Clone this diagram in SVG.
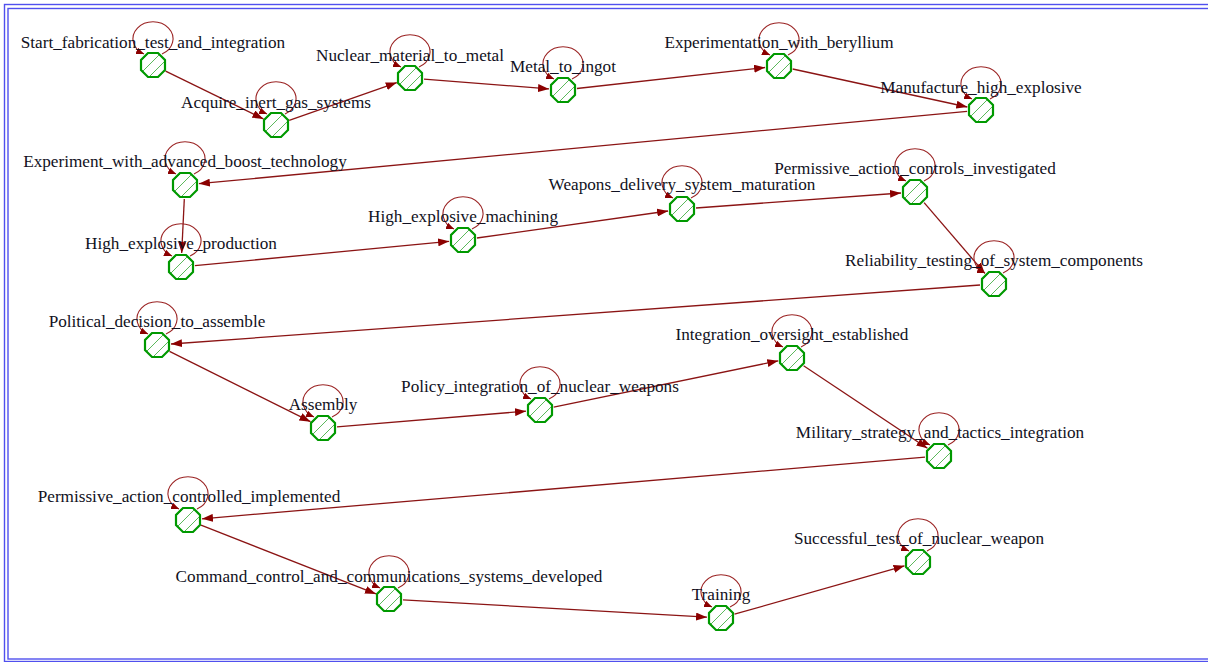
<svg xmlns="http://www.w3.org/2000/svg" xmlns:xlink="http://www.w3.org/1999/xlink" width="1208" height="662" viewBox="0 0 1208 662">
<style>
.edge{fill:none;stroke:#8b1414;stroke-width:1.3;marker-end:url(#arr)}
.loop{fill:none;stroke:#9b2424;stroke-width:1.1;marker-end:url(#arrS)}
.lbl{font-family:"Liberation Serif","Times New Roman",serif;font-size:17.2px;fill:#111122;text-anchor:middle}
.frame{fill:none;stroke:#5050ee;stroke-width:1.4}
</style>
<defs>
<marker id="arr" markerUnits="userSpaceOnUse" markerWidth="12" markerHeight="8" refX="11" refY="4" orient="auto"><path d="M0,0 L11,4 L0,8 z" fill="#8b0000"/></marker>
<marker id="arrS" markerUnits="userSpaceOnUse" markerWidth="9" markerHeight="7" refX="8" refY="3.5" orient="auto"><path d="M0,0 L8,3.5 L0,7 z" fill="#8b0000"/></marker>
<clipPath id="octClip"><polygon points="12,5 5,12 -5,12 -12,5 -12,-5 -5,-12 5,-12 12,-5"/></clipPath>
<g id="oct">
<polygon points="12,5 5,12 -5,12 -12,5 -12,-5 -5,-12 5,-12 12,-5" fill="#ffffff"/>
<g clip-path="url(#octClip)" stroke="#5cb85c" stroke-width="1">
<line x1="-20" y1="4" x2="4" y2="-20"/>
<line x1="-14" y1="10" x2="10" y2="-14"/>
<line x1="-8" y1="16" x2="16" y2="-8"/>
<line x1="-2" y1="22" x2="22" y2="-2"/>
</g>
<polygon points="12,5 5,12 -5,12 -12,5 -12,-5 -5,-12 5,-12 12,-5" fill="none" stroke="#009900" stroke-width="2.2"/>
</g>
</defs>
<rect x="0" y="0" width="1208" height="662" fill="#ffffff"/>
<rect class="frame" x="4.5" y="4.5" width="1212" height="657"/>
<rect class="frame" x="8" y="8.5" width="1208" height="650.5"/>
<g id="connectors">
<path class="edge" d="M165.6,71.1 L263.4,118.9"/>
<path class="edge" d="M289.2,120.4 L396.8,82.6"/>
<path class="edge" d="M424,79.1 L549,88.9"/>
<path class="edge" d="M576.9,88.5 L765.1,67.5"/>
<path class="edge" d="M792.7,69 L967.3,107"/>
<path class="edge" d="M967.1,111.3 L198.9,183.7"/>
<path class="edge" d="M184.3,199 L181.7,253"/>
<path class="edge" d="M194.9,265.7 L449.1,241.3"/>
<path class="edge" d="M476.9,238 L668.1,211"/>
<path class="edge" d="M696,208 L901,193"/>
<path class="edge" d="M924.1,202.6 L984.9,273.4"/>
<path class="edge" d="M980,285 L171,344"/>
<path class="edge" d="M169.5,351.3 L310.5,421.7"/>
<path class="edge" d="M337,426.8 L526,411.2"/>
<path class="edge" d="M553.7,407.2 L778.3,360.8"/>
<path class="edge" d="M803.6,365.8 L927.4,448.2"/>
<path class="edge" d="M925,457.2 L202,518.8"/>
<path class="edge" d="M201,525.1 L376,593.9"/>
<path class="edge" d="M403,599.8 L707,617.2"/>
<path class="edge" d="M734.5,614.2 L904.5,565.8"/>
<path class="loop" d="M162,54 A20 17 0 1 0 144,54"/>
<path class="loop" d="M285,114 A20 17 0 1 0 267,114"/>
<path class="loop" d="M419,67 A20 17 0 1 0 401,67"/>
<path class="loop" d="M572,79 A20 17 0 1 0 554,79"/>
<path class="loop" d="M788,55 A20 17 0 1 0 770,55"/>
<path class="loop" d="M990,99 A20 17 0 1 0 972,99"/>
<path class="loop" d="M194,174 A20 17 0 1 0 176,174"/>
<path class="loop" d="M190,256 A20 17 0 1 0 172,256"/>
<path class="loop" d="M472,229 A20 17 0 1 0 454,229"/>
<path class="loop" d="M691,198 A20 17 0 1 0 673,198"/>
<path class="loop" d="M924,181 A20 17 0 1 0 906,181"/>
<path class="loop" d="M1003,273 A20 17 0 1 0 985,273"/>
<path class="loop" d="M166,334 A20 17 0 1 0 148,334"/>
<path class="loop" d="M332,417 A20 17 0 1 0 314,417"/>
<path class="loop" d="M549,399 A20 17 0 1 0 531,399"/>
<path class="loop" d="M801,347 A20 17 0 1 0 783,347"/>
<path class="loop" d="M948,445 A20 17 0 1 0 930,445"/>
<path class="loop" d="M197,509 A20 17 0 1 0 179,509"/>
<path class="loop" d="M398,588 A20 17 0 1 0 380,588"/>
<path class="loop" d="M730,607 A20 17 0 1 0 712,607"/>
<path class="loop" d="M927,551 A20 17 0 1 0 909,551"/>
</g>
<g id="n1"><use xlink:href="#oct" x="153" y="65"/><text class="lbl" x="153" y="48">Start_fabrication_test_and_integration</text></g>
<g id="n2"><use xlink:href="#oct" x="276" y="125"/><text class="lbl" x="276" y="108">Acquire_inert_gas_systems</text></g>
<g id="n3"><use xlink:href="#oct" x="410" y="78"/><text class="lbl" x="410" y="61">Nuclear_material_to_metal</text></g>
<g id="n4"><use xlink:href="#oct" x="563" y="90"/><text class="lbl" x="563" y="72">Metal_to_ingot</text></g>
<g id="n5"><use xlink:href="#oct" x="779" y="66"/><text class="lbl" x="779" y="48">Experimentation_with_beryllium</text></g>
<g id="n6"><use xlink:href="#oct" x="981" y="110"/><text class="lbl" x="981" y="93">Manufacture_high_explosive</text></g>
<g id="n7"><use xlink:href="#oct" x="185" y="185"/><text class="lbl" x="185" y="167">Experiment_with_advanced_boost_technology</text></g>
<g id="n8"><use xlink:href="#oct" x="181" y="267"/><text class="lbl" x="181" y="249">High_explosive_production</text></g>
<g id="n9"><use xlink:href="#oct" x="463" y="240"/><text class="lbl" x="463" y="222">High_explosive_machining</text></g>
<g id="n10"><use xlink:href="#oct" x="682" y="209"/><text class="lbl" x="682" y="190">Weapons_delivery_system_maturation</text></g>
<g id="n11"><use xlink:href="#oct" x="915" y="192"/><text class="lbl" x="915" y="174">Permissive_action_controls_investigated</text></g>
<g id="n12"><use xlink:href="#oct" x="994" y="284"/><text class="lbl" x="994" y="266">Reliability_testing_of_system_components</text></g>
<g id="n13"><use xlink:href="#oct" x="157" y="345"/><text class="lbl" x="157" y="327">Political_decision_to_assemble</text></g>
<g id="n14"><use xlink:href="#oct" x="323" y="428"/><text class="lbl" x="323" y="410">Assembly</text></g>
<g id="n15"><use xlink:href="#oct" x="540" y="410"/><text class="lbl" x="540" y="392">Policy_integration_of_nuclear_weapons</text></g>
<g id="n16"><use xlink:href="#oct" x="792" y="358"/><text class="lbl" x="792" y="340">Integration_oversight_established</text></g>
<g id="n17"><use xlink:href="#oct" x="939" y="456"/><text class="lbl" x="940" y="438">Military_strategy_and_tactics_integration</text></g>
<g id="n18"><use xlink:href="#oct" x="188" y="520"/><text class="lbl" x="189" y="502">Permissive_action_controlled_implemented</text></g>
<g id="n19"><use xlink:href="#oct" x="389" y="599"/><text class="lbl" x="389" y="582">Command_control_and_communications_systems_developed</text></g>
<g id="n20"><use xlink:href="#oct" x="721" y="618"/><text class="lbl" x="721" y="600">Training</text></g>
<g id="n21"><use xlink:href="#oct" x="918" y="562"/><text class="lbl" x="919" y="544">Successful_test_of_nuclear_weapon</text></g>
</svg>
